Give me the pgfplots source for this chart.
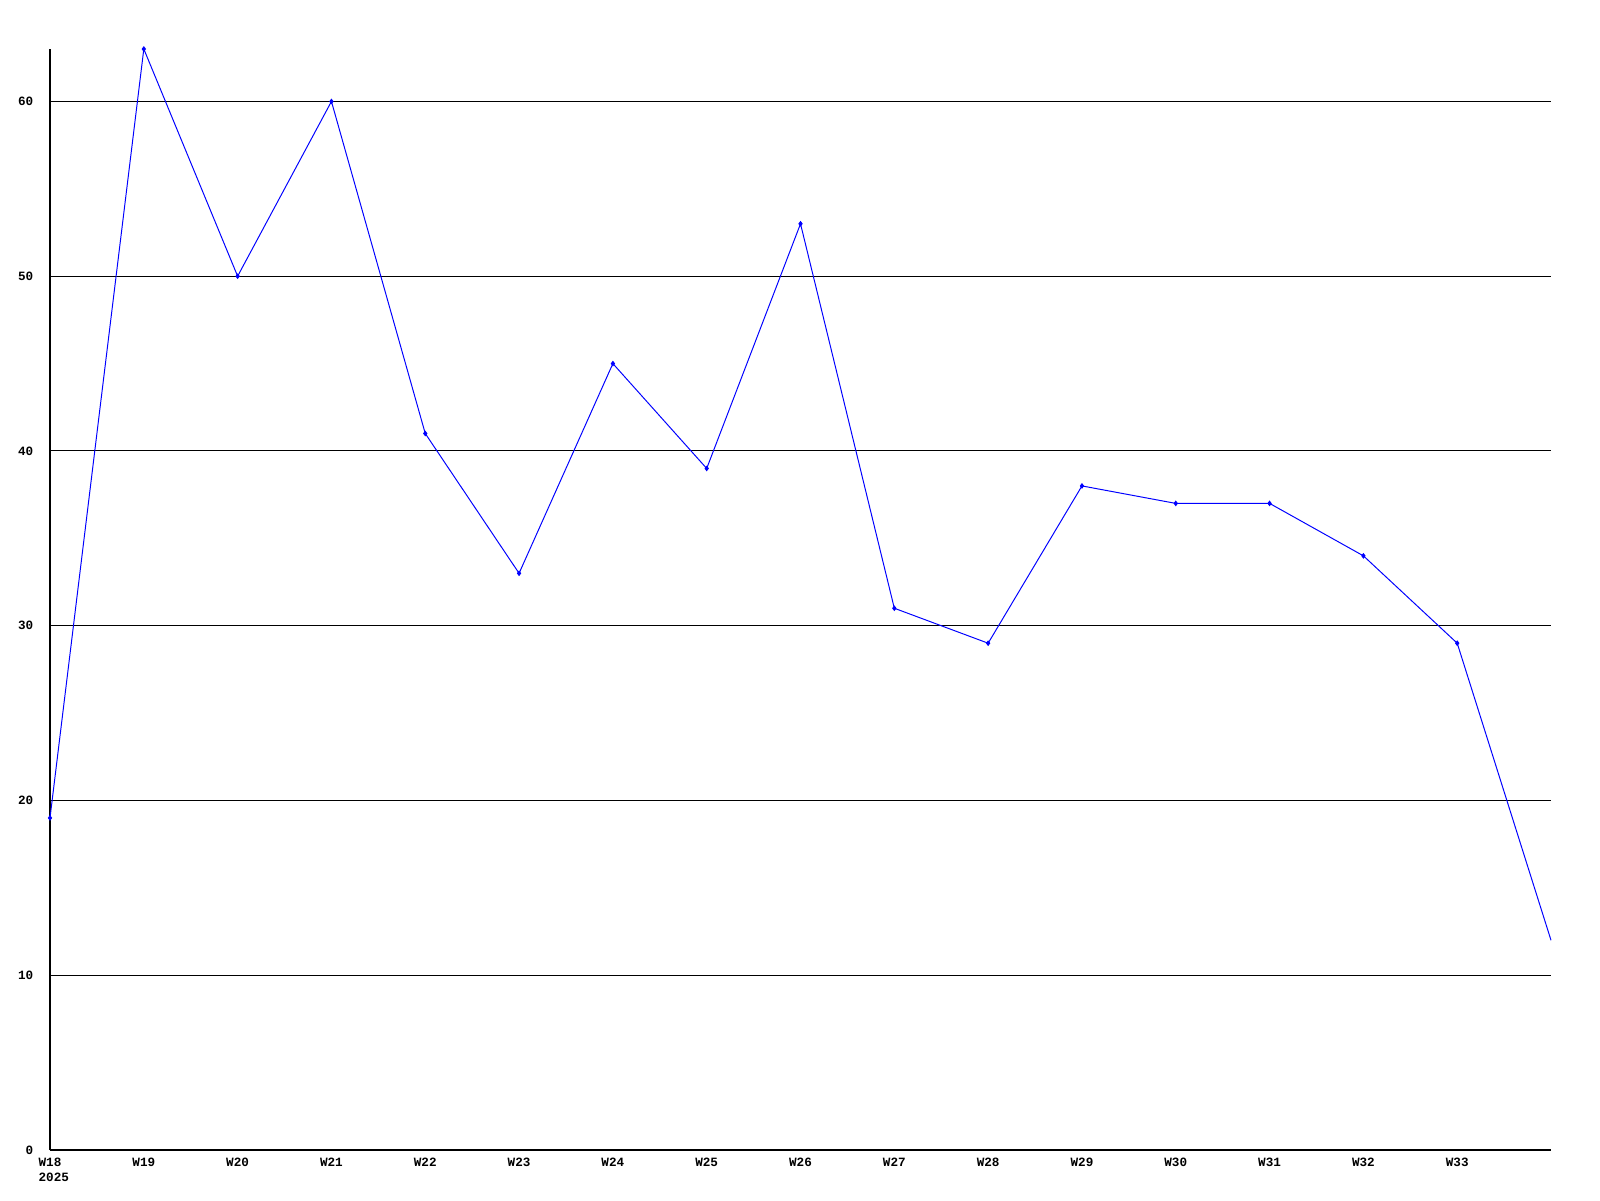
\documentclass[border=0pt]{standalone}
\usepackage{fontspec}
\setmainfont{Liberation Mono}
\usepackage{pgfplots}
\pgfplotsset{compat=1.18}
\begin{document}
\begin{tikzpicture}
\path[use as bounding box] (0,0) rectangle (16cm,12cm);
\begin{axis}[
  at={(0.5cm,0.5cm)}, anchor=south west,
  scale only axis, width=15.01cm, height=11.01cm,
  xmin=0, xmax=16, ymin=0, ymax=63,
  axis x line*=bottom, axis y line*=left,
  axis line style={black, line width=0.3pt, -},
  xtick={0,...,15},
  xticklabels={{W18\\\rlap{2025}},W19,W20,W21,W22,W23,W24,W25,W26,W27,W28,W29,W30,W31,W32,W33},
  ytick={0,10,...,60},
  ymajorgrids, grid style={black, line width=0.3pt},
  major tick length=0pt,
  /pgf/number format/assume math mode=true,
  ticklabel style={font=\fontsize{3.6}{4.4}\selectfont\bfseries},
  xticklabel style={anchor=north, align=left, inner sep=0pt, yshift=-0.07cm},
  yticklabel style={anchor=east, inner sep=0pt, xshift=-0.16cm},
  clip=false,
]
\addplot[color={rgb,255:red,0;green,0;blue,255}, line width=0.28pt, mark=diamond*, mark size=0.6pt, mark options={solid}] coordinates {
(0,19) (1,63) (2,50) (3,60) (4,41) (5,33) (6,45) (7,39) (8,53) (9,31) (10,29) (11,38) (12,37) (13,37) (14,34) (15,29)
};
\addplot[color={rgb,255:red,0;green,0;blue,255}, line width=0.28pt] coordinates {(15,29) (16,12)};
\end{axis}
\end{tikzpicture}
\end{document}
